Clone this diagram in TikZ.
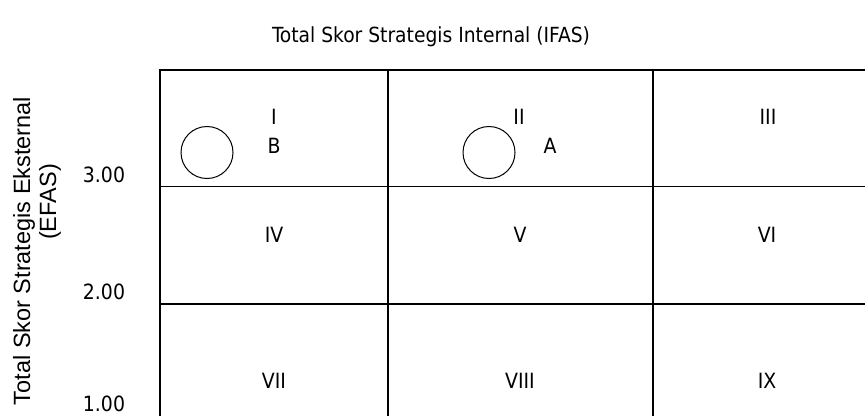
\documentclass[tikz,border=0pt]{standalone}
\usepackage{fontspec}
\setmainfont{DejaVu Sans Condensed}
\newfontfamily\arialf{Liberation Sans}
\begin{document}
\begin{tikzpicture}[x=1pt,y=-1pt,
  gridline/.style={line width=1.5pt,black},
  mark circ/.style={draw,line width=1pt,circle,minimum size=52pt,inner sep=0pt},
  cell/.style={anchor=base,inner sep=0pt,font=\fontsize{21}{24}\selectfont},
  tick/.style={anchor=base,inner sep=0pt,font=\fontsize{21}{24}\selectfont},
  axis/.style={anchor=base,inner sep=0pt,rotate=90,font=\arialf\fontsize{23.5}{27}\selectfont}]
\useasboundingbox (0,0) rectangle (865,416);
\fill[white] (0,0) rectangle (865,416);
% grid corners
\coordinate (tl) at (160,70);
\coordinate (tr) at (865,70);
\coordinate (bl) at (160,416);
\coordinate (v1t) at (388,70);
\coordinate (v1b) at (388,416);
\coordinate (v2t) at (653,70);
\coordinate (v2b) at (653,416);
\coordinate (h1l) at (160,186.5);
\coordinate (h1r) at (865,186.5);
\coordinate (h2l) at (160,304);
\coordinate (h2r) at (865,304);
\draw[gridline] (bl) -- (tl) -- (tr);
\draw[gridline] (v1t) -- (v1b);
\draw[gridline] (v2t) -- (v2b);
\draw[gridline] (h1l) -- (h1r);
\draw[gridline] (h2l) -- (h2r);
% title
\node[anchor=base,inner sep=0pt,font=\fontsize{20.8}{24}\selectfont] (title) at (431,42) {Total Skor Strategis Internal (IFAS)};
% axis labels
\node[axis] (ylab1) at (30,251) {Total Skor Strategis Eksternal};
\node[axis] (ylab2) at (56,202) {(EFAS)};
% ticks
\node[tick] (t3) at (104,182) {3.00};
\node[tick] (t2) at (104,299) {2.00};
\node[tick] (t1) at (104,411.5) {1.00};
% cells
\node[cell] (c1) at (274,124) {I};
\node[cell] (cb) at (274,153) {B};
\node[cell] (c2) at (519,124) {II};
\node[cell] (ca) at (550,153) {A};
\node[cell] (c3) at (768,124) {III};
\node[cell] (c4) at (274,242) {IV};
\node[cell] (c5) at (520,242) {V};
\node[cell] (c6) at (767,242) {VI};
\node[cell] (c7) at (274,388) {VII};
\node[cell] (c8) at (520,388) {VIII};
\node[cell] (c9) at (767,388) {IX};
% circles
\node[mark circ] (circB) at (207,152.5) {};
\node[mark circ] (circA) at (489,152.5) {};
\end{tikzpicture}
\end{document}
